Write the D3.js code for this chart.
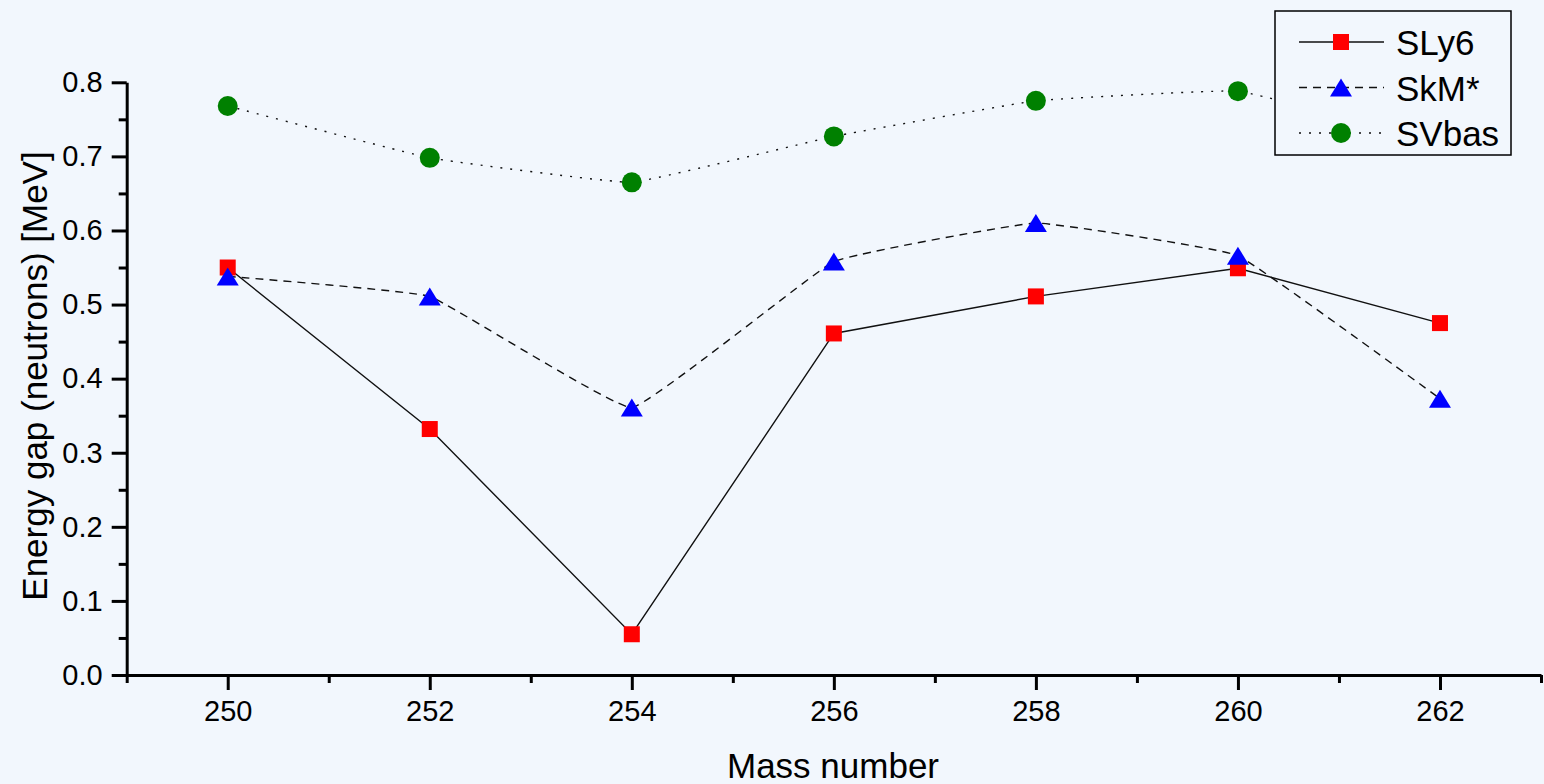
<!DOCTYPE html>
<html>
<head>
<meta charset="utf-8">
<script src="https://cdn.jsdelivr.net/npm/d3@7"></script>
<style>
  html, body { margin: 0; padding: 0; background: #f2f7fd; }
  svg { display: block; font-family: "Liberation Sans", Arial, sans-serif; }
</style>
</head>
<body>
<div class="gap-plot"></div>
<script>
// mass numbers and neutron energy gaps (MeV)
const massNumbers = [250, 252, 254, 256, 258, 260, 262];
const sly6 = [0.550, 0.332, 0.055, 0.461, 0.511, 0.549, 0.475];
const skm = [0.538, 0.511, 0.361, 0.558, 0.610, 0.566, 0.373];
const svbas = [0.768, 0.698, 0.665, 0.727, 0.775, 0.788, 0.720];
const seriesNames = ["SLy6", "SkM*", "SVbas"];
const yTicks = [0.0, 0.1, 0.2, 0.3, 0.4, 0.5, 0.6, 0.7, 0.8];

const width = 1544;
const height = 784;

const svg = d3.select('.gap-plot')
  .append('svg')
  .attr('width', width)
  .attr('height', height);

const x = d3.scaleLinear().domain([249, 263]).range([126.7, 1541]);
const y = d3.scaleLinear().domain([0, 0.8]).range([675, 82.3]);

// minor ticks first
svg.append('g')
  .attr('transform', 'translate(0,675)')
  .call(d3.axisBottom(x).tickValues(d3.range(249, 264, 2)).tickSize(8).tickSizeOuter(0).tickFormat(''))
  .call(g => g.select('.domain').remove());
svg.append('g')
  .attr('transform', 'translate(126.7,0)')
  .call(d3.axisLeft(y).tickValues(d3.range(0.05, 0.8, 0.1)).tickSize(8).tickSizeOuter(0).tickFormat(''))
  .call(g => g.select('.domain').remove());

const xAxis = svg.append('g')
  .attr('transform', 'translate(0,675)')
  .call(d3.axisBottom(x).tickValues(massNumbers).tickSize(15).tickSizeOuter(0).tickPadding(10));
const yAxis = svg.append('g')
  .attr('transform', 'translate(126.7,0)')
  .call(d3.axisLeft(y).tickValues(yTicks).tickSize(15).tickSizeOuter(0).tickPadding(9).tickFormat(d3.format('.1f')));

svg.selectAll('.tick line').attr('stroke', '#000').attr('stroke-width', 3);
svg.selectAll('.domain').attr('stroke', '#000').attr('stroke-width', 3);
svg.selectAll('.tick text')
  .attr('font-family', '"Liberation Sans", Arial, sans-serif')
  .attr('font-size', 29)
  .attr('fill', '#000');

// axis titles
svg.append('text')
  .attr('x', 833)
  .attr('y', 778)
  .attr('text-anchor', 'middle')
  .attr('font-size', 35)
  .text('Mass number');
svg.append('text')
  .attr('transform', 'translate(47,376) rotate(-90)')
  .attr('text-anchor', 'middle')
  .attr('font-size', 35)
  .text('Energy gap (neutrons) [MeV]');

const series = [
  { name: seriesNames[0], values: sly6, color: 'red', dash: null, curve: d3.curveLinear, shape: 'square' },
  { name: seriesNames[1], values: skm, color: 'blue', dash: '8,6', curve: d3.curveCardinal.tension(0.75), shape: 'triangle' },
  { name: seriesNames[2], values: svbas, color: 'green', dash: '2,8', curve: d3.curveCardinal.tension(0.75), shape: 'circle' }
];

function drawMarker(g, shape, color) {
  if (shape === 'square') {
    g.append('rect').attr('x', -8).attr('y', -8).attr('width', 16).attr('height', 16).attr('fill', color);
  } else if (shape === 'triangle') {
    g.append('path').attr('d', 'M0,-9L11,9L-11,9Z').attr('fill', color);
  } else {
    g.append('circle').attr('r', 10).attr('fill', color);
  }
}

series.forEach(function(s) {
  const line = d3.line()
    .x((d, i) => x(massNumbers[i]))
    .y(d => y(d))
    .curve(s.curve);
  svg.append('path')
    .datum(s.values)
    .attr('d', line)
    .attr('fill', 'none')
    .attr('stroke', '#111')
    .attr('stroke-width', 1.4)
    .attr('stroke-dasharray', s.dash);
});

series.forEach(function(s) {
  svg.selectAll(null)
    .data(s.values)
    .enter()
    .append('g')
    .attr('transform', (d, i) => 'translate(' + x(massNumbers[i]) + ',' + y(d) + ')')
    .each(function() { drawMarker(d3.select(this), s.shape, s.color); });
});

// legend
const legend = svg.append('g');
legend.append('rect')
  .attr('x', 1275).attr('y', 11)
  .attr('width', 236).attr('height', 144)
  .attr('fill', '#f2f7fd')
  .attr('stroke', '#000')
  .attr('stroke-width', 1.5);

series.forEach(function(s, i) {
  const cy = 42 + i * 45.5;
  legend.append('line')
    .attr('x1', 1299).attr('x2', 1384)
    .attr('y1', cy).attr('y2', cy)
    .attr('stroke', '#111')
    .attr('stroke-width', 1.4)
    .attr('stroke-dasharray', s.dash);
  const m = legend.append('g').attr('transform', 'translate(1341,' + cy + ')');
  drawMarker(m, s.shape, s.color);
  legend.append('text')
    .attr('x', 1396)
    .attr('y', cy + 13)
    .attr('font-size', 35)
    .text(s.name);
});
</script>
</body>
</html>
